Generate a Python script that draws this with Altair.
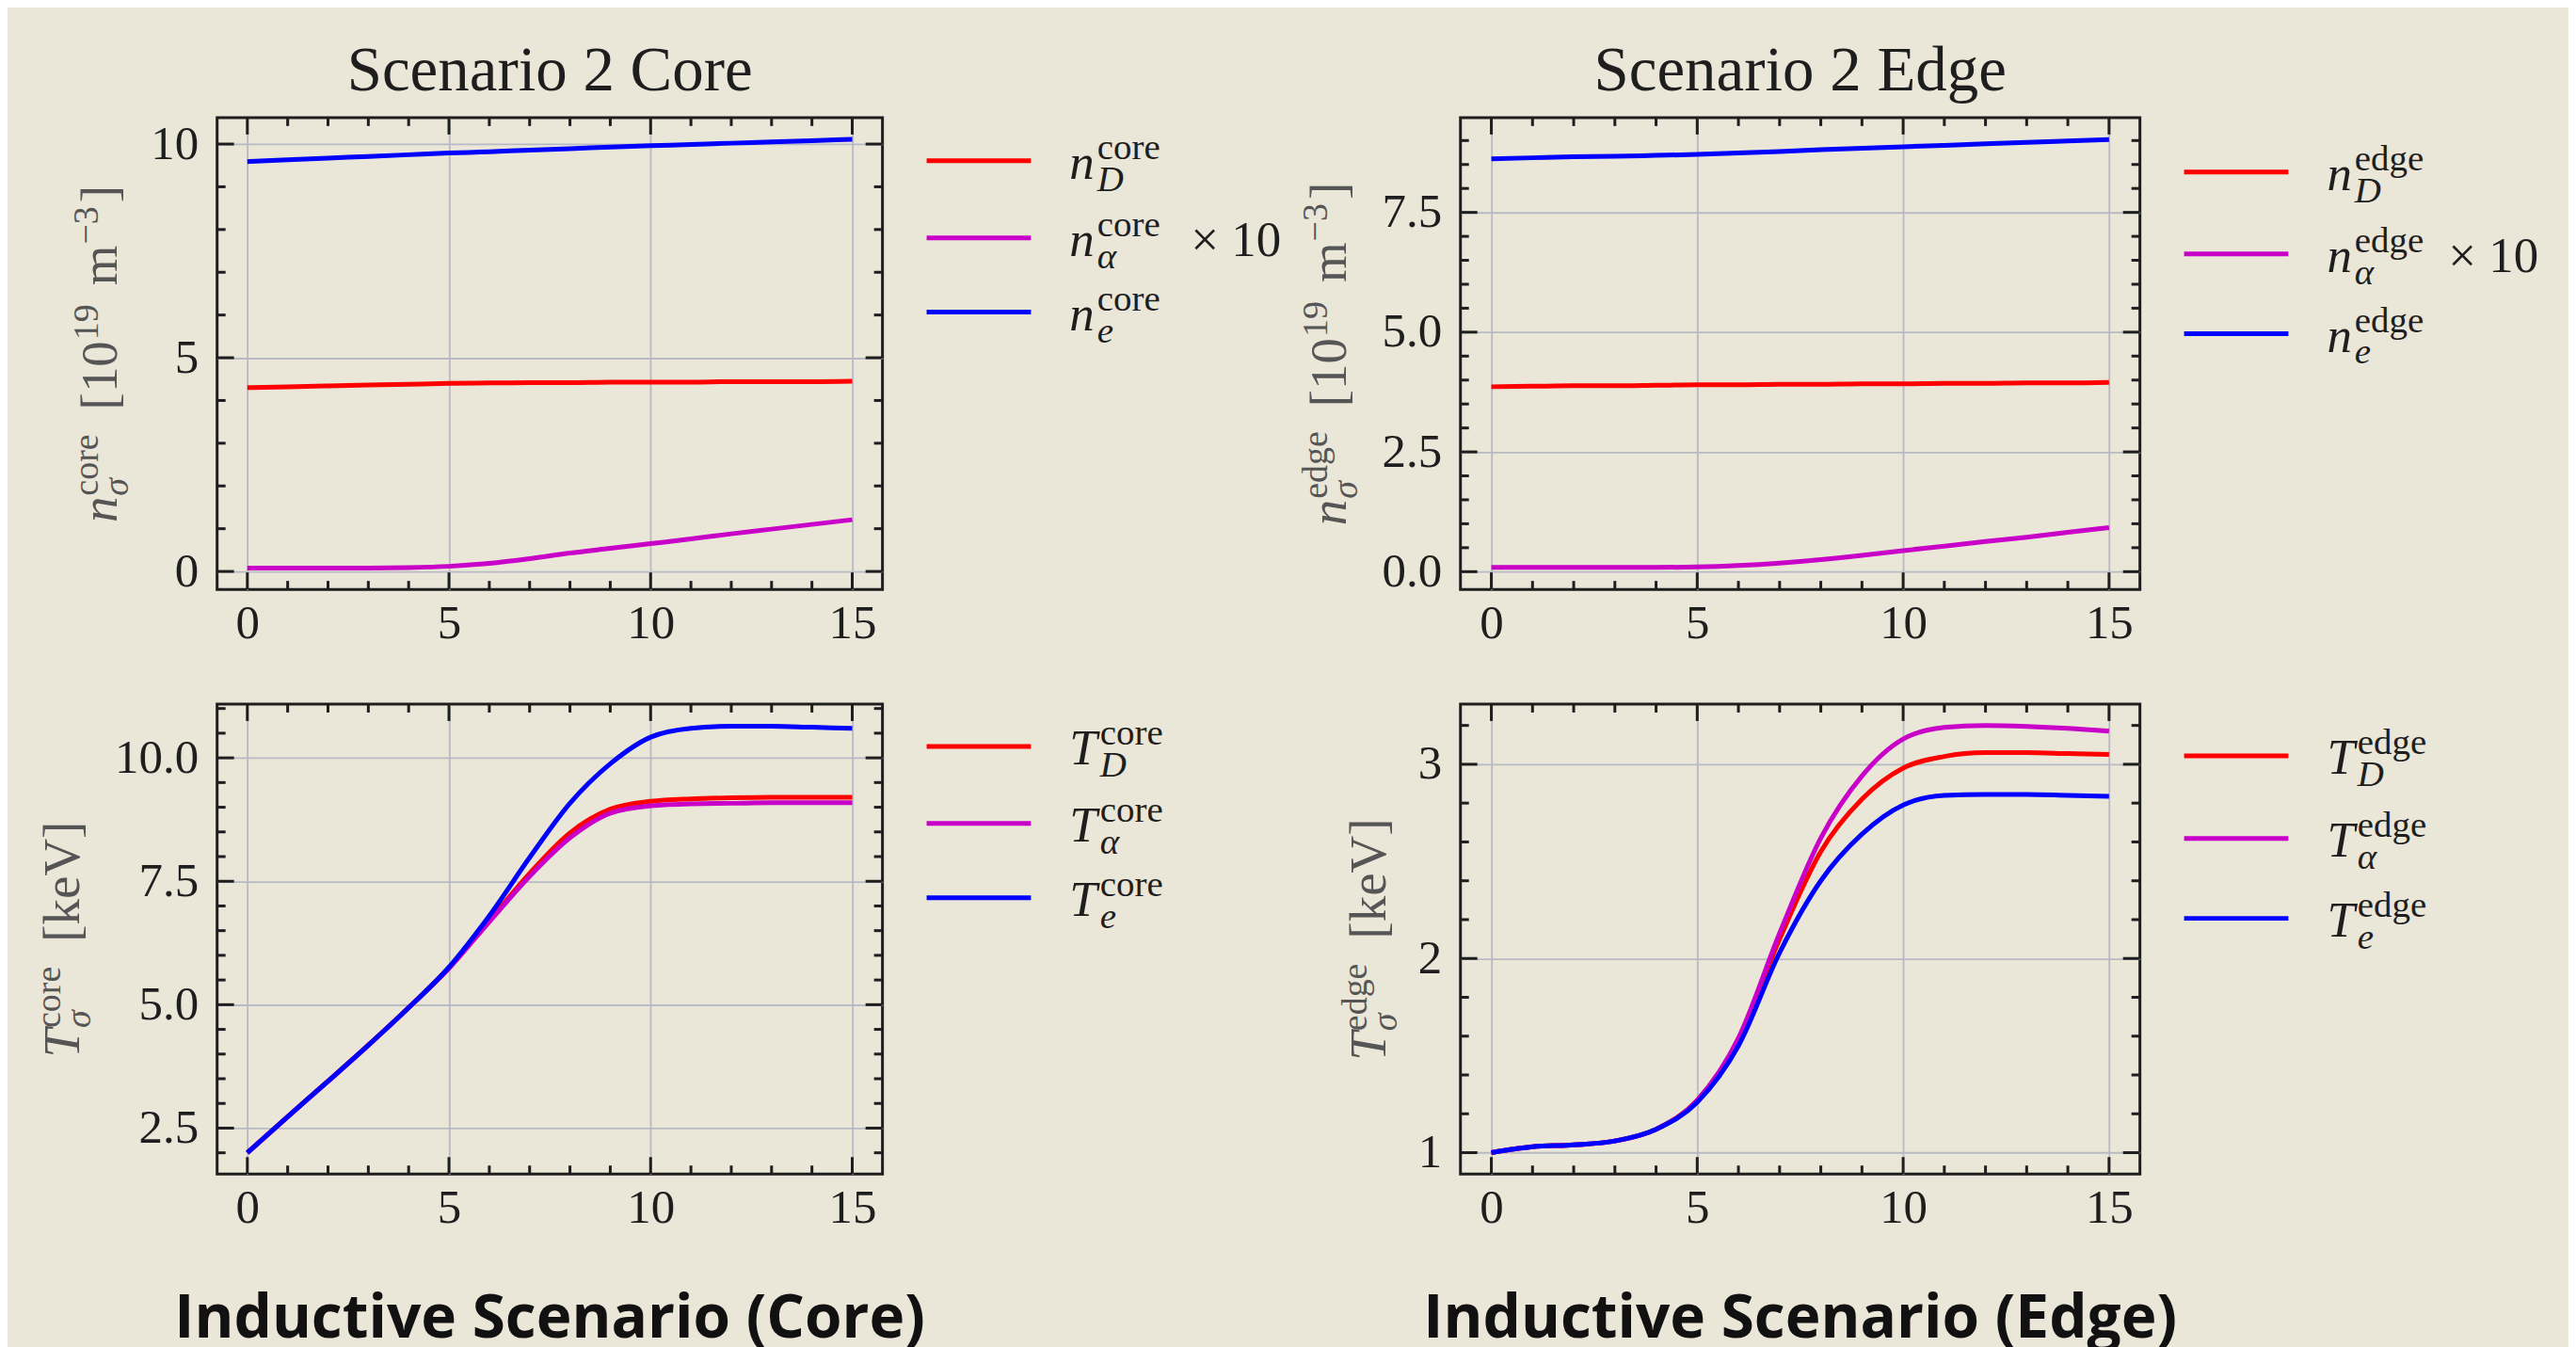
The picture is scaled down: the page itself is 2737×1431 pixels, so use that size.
import altair as alt
import pandas as pd

# ---------------- data ----------------
TIME = [0, 1, 2, 3, 4, 5, 6, 7, 8, 9, 10, 11, 12, 13, 14, 15]

# densities [1e19 m^-3], alpha density shown x10
N_D_CORE = [4.30, 4.32, 4.34, 4.36, 4.38, 4.40, 4.41, 4.42, 4.42, 4.43, 4.43, 4.43, 4.44, 4.44, 4.44, 4.45]
N_A_CORE = [0.08, 0.08, 0.08, 0.08, 0.09, 0.12, 0.19, 0.30, 0.43, 0.54, 0.65, 0.76, 0.88, 0.99, 1.10, 1.21]
N_E_CORE = [9.59, 9.63, 9.67, 9.71, 9.75, 9.79, 9.82, 9.86, 9.89, 9.93, 9.96, 9.99, 10.02, 10.05, 10.08, 10.11]

N_D_EDGE = [3.86, 3.87, 3.88, 3.88, 3.89, 3.90, 3.90, 3.91, 3.91, 3.92, 3.92, 3.93, 3.93, 3.94, 3.94, 3.95]
N_A_EDGE = [0.09, 0.09, 0.09, 0.09, 0.09, 0.10, 0.13, 0.18, 0.25, 0.34, 0.44, 0.53, 0.63, 0.72, 0.82, 0.92]
N_E_EDGE = [8.62, 8.64, 8.66, 8.67, 8.69, 8.71, 8.74, 8.77, 8.81, 8.84, 8.87, 8.90, 8.93, 8.96, 8.99, 9.02]

# temperatures [keV]
T_D_CORE = [2.00, 2.73, 3.45, 4.18, 4.94, 5.74, 6.70, 7.66, 8.48, 8.96, 9.12, 9.17, 9.19, 9.20, 9.20, 9.20]
T_A_CORE = [2.00, 2.73, 3.45, 4.18, 4.94, 5.74, 6.68, 7.60, 8.38, 8.88, 9.03, 9.07, 9.08, 9.09, 9.09, 9.09]
T_E_CORE = [2.00, 2.73, 3.45, 4.18, 4.94, 5.76, 6.80, 7.98, 9.08, 9.88, 10.42, 10.60, 10.64, 10.64, 10.62, 10.60]

T_D_EDGE = [1.00, 1.03, 1.04, 1.06, 1.12, 1.27, 1.58, 2.10, 2.55, 2.82, 2.98, 3.04, 3.06, 3.06, 3.055, 3.05]
T_A_EDGE = [1.00, 1.03, 1.04, 1.06, 1.12, 1.27, 1.59, 2.13, 2.62, 2.94, 3.13, 3.19, 3.20, 3.195, 3.185, 3.17]
T_E_EDGE = [1.00, 1.03, 1.04, 1.06, 1.12, 1.26, 1.55, 2.03, 2.40, 2.64, 2.79, 2.84, 2.845, 2.845, 2.84, 2.835]

SPECIES_SUB = ["D", "α", "e"]
DENSITY_SUFFIX = ["", "× 10", ""]
TEMP_SUFFIX = ["", "", ""]

X_MAJOR = [0, 5, 10, 15]
X_MINOR = [1, 2, 3, 4, 6, 7, 8, 9, 11, 12, 13, 14]
Y_MAJOR_NCORE = [0, 5, 10]
Y_MINOR_NCORE = [1, 2, 3, 4, 6, 7, 8, 9]
Y_MAJOR_NEDGE = [0, 2.5, 5, 7.5]
Y_MINOR_NEDGE = [0.5, 1, 1.5, 2, 3, 3.5, 4, 4.5, 5.5, 6, 6.5, 7, 8, 8.5, 9]
Y_MAJOR_TCORE = [2.5, 5, 7.5, 10]
Y_MINOR_TCORE = [2, 3, 3.5, 4, 4.5, 5.5, 6, 6.5, 7, 8, 8.5, 9, 9.5, 10.5, 11]
Y_MAJOR_TEDGE = [1, 2, 3]
Y_MINOR_TEDGE = [1.2, 1.4, 1.6, 1.8, 2.2, 2.4, 2.6, 2.8, 3.2]

# ---------------- style ----------------
BG = "#EAE6D8"
INK = "#1e1e1e"
GREY_TITLE = "#555555"
GRID = "#b8bac3"
SERIF = "Liberation Serif"
COLORS = ["#FF0000", "#C800C8", "#0000FF"]
X_DOMAIN = [-0.75, 15.75]
TICK_FS = 51
LEG_MAIN, LEG_SMALL = 53, 39
TTL_MAIN, TTL_SMALL = 55, 38
LINE_W = 5

REG = {' ': 250, '[': 333, ']': 333, 'm': 778, 'k': 500, 'e': 444, 'V': 722, 'c': 444,
       'o': 500, 'r': 333, 'd': 500, 'g': 500, '−': 564, '×': 564, 'σ': 550, 'α': 550}
ITA = {'n': 500, 'T': 556, 'D': 722, 'e': 444, 'σ': 500, 'α': 520}


def tw(s, size, italic=False):
    tab = ITA if italic else REG
    return sum(tab.get(ch, 500) for ch in s) * size / 1000.0


one = pd.DataFrame({"k": [0]})


def txt(text, x, y, size, italic=False, angle=0, dx=0, dy=0, align="left",
        color=INK, font=SERIF, weight="normal"):
    return alt.Chart(one).mark_text(
        text=text, font=font, fontSize=size, fontStyle="italic" if italic else "normal",
        fontWeight=weight, color=color, align=align, baseline="alphabetic",
        angle=angle, dx=dx, dy=dy).encode(x=alt.value(x), y=alt.value(y))


def rotated_title(atoms, x_base, y_center):
    M, S = TTL_MAIN, TTL_SMALL
    total = 0.0
    for a in atoms:
        total += tw(a["base"], M, a.get("it", False)) + 1
        total += max(tw(a.get("sup", ""), S), tw(a.get("sub", ""), S, True))
        total += a.get("gap", 0)
    y_start = y_center + total / 2.0
    layers = []
    off = 0.0
    for a in atoms:
        layers.append(txt(a["base"], x_base, y_start, M, a.get("it", False), angle=270,
                          dx=off, color=GREY_TITLE))
        off += tw(a["base"], M, a.get("it", False)) + 1
        w = 0
        if a.get("sup"):
            layers.append(txt(a["sup"], x_base, y_start, S, False, angle=270, dx=off,
                              dy=-20, color=GREY_TITLE))
            w = max(w, tw(a["sup"], S))
        if a.get("sub"):
            layers.append(txt(a["sub"], x_base, y_start, S, True, angle=270, dx=off,
                              dy=12, color=GREY_TITLE))
            w = max(w, tw(a["sub"], S, True))
        off += w + a.get("gap", 0)
    return layers


def panel(W, H, ydom, ymaj, ymin, yfmt, values, sym, sup, suffixes, legend_rows,
          title_x, title_atoms, top_title=None, bottom_text=None, anchor=False):
    xs = alt.Scale(domain=X_DOMAIN, nice=False, zero=False)
    ys = alt.Scale(domain=ydom, nice=False, zero=False)
    xaxis = alt.Axis(values=X_MAJOR, title=None, grid=True, gridColor=GRID, gridWidth=1.8,
                     ticks=False, tickSize=0, domain=False, labelFont=SERIF,
                     labelFontSize=TICK_FS, labelColor=INK, labelPadding=11, labelFlush=False,
                     labelOverlap=False, format="d")
    yaxis = alt.Axis(values=ymaj, title=None, grid=True, gridColor=GRID, gridWidth=1.8,
                     ticks=False, tickSize=0, domain=False, labelFont=SERIF,
                     labelFontSize=TICK_FS, labelColor=INK, labelPadding=20, labelFlush=False,
                     labelOverlap=False, format=yfmt)
    layers = []
    if anchor:
        # transparent rectangle fixing the overall canvas extent
        layers.append(alt.Chart(one).mark_rect(opacity=0).encode(
            x=alt.value(-221), x2=alt.value(2721 - 221),
            y=alt.value(-114), y2=alt.value(1413 - 114)))
    for i, (vals, col) in enumerate(zip(values, COLORS)):
        df = pd.DataFrame({"t": TIME, "v": vals})
        layers.append(alt.Chart(df).mark_line(color=col, strokeWidth=LINE_W,
                                              interpolate="monotone").encode(
            x=alt.X("t:Q", scale=xs, axis=xaxis),
            y=alt.Y("v:Q", scale=ys, axis=yaxis)))
    # inward ticks on all four sides
    for vals, L in ((X_MAJOR, 18), (X_MINOR, 9)):
        d = pd.DataFrame({"t": vals})
        b = alt.Chart(d).mark_rule(color=INK, strokeWidth=3)
        layers.append(b.encode(x=alt.X("t:Q", scale=xs, axis=xaxis), y=alt.value(H), y2=alt.value(H - L)))
        layers.append(b.encode(x=alt.X("t:Q", scale=xs, axis=xaxis), y=alt.value(0), y2=alt.value(L)))
    for vals, L in ((ymaj, 18), (ymin, 9)):
        d = pd.DataFrame({"v": vals})
        b = alt.Chart(d).mark_rule(color=INK, strokeWidth=3)
        layers.append(b.encode(y=alt.Y("v:Q", scale=ys, axis=yaxis), x=alt.value(0), x2=alt.value(L)))
        layers.append(b.encode(y=alt.Y("v:Q", scale=ys, axis=yaxis), x=alt.value(W), x2=alt.value(W - L)))
    # legend
    for i, ry in enumerate(legend_rows):
        layers.append(alt.Chart(one).mark_rule(color=COLORS[i], strokeWidth=LINE_W).encode(
            x=alt.value(W + 47), x2=alt.value(W + 158), y=alt.value(ry)))
        x0 = W + 199
        base_y = ry + 19
        layers.append(txt(sym, x0, base_y, LEG_MAIN, True))
        xs2 = x0 + tw(sym, LEG_MAIN, True) + 3
        layers.append(txt(sup, xs2, base_y - 21, LEG_SMALL))
        layers.append(txt(SPECIES_SUB[i], xs2, base_y + 13, LEG_SMALL, True))
        if suffixes[i]:
            layers.append(txt(suffixes[i], W + 328, base_y, LEG_MAIN))
    layers += rotated_title(title_atoms, title_x, H / 2.0)
    if top_title:
        layers.append(txt(top_title, W / 2.0, -29, 67, align="center"))
    if bottom_text:
        layers.append(txt(bottom_text, W / 2.0, 674, 64, align="center", color="#111111",
                          font="Open Sans", weight="bold"))
    return alt.layer(*layers).properties(width=W, height=H)


def dens_atoms(sup):
    return [dict(base="n", it=True, sup=sup, sub="σ", gap=26),
            dict(base="[10", sup="19", gap=20),
            dict(base="m", sup="−3", gap=4),
            dict(base="]")]


def temp_atoms(sup):
    return [dict(base="T", it=True, sup=sup, sub="σ", gap=26),
            dict(base="[keV]")]


TL = panel(708, 502, [-0.42, 10.62], Y_MAJOR_NCORE, Y_MINOR_NCORE, "d",
           [N_D_CORE, N_A_CORE, N_E_CORE], "n", "core", DENSITY_SUFFIX, [46, 128, 207],
           -107, dens_atoms("core"), top_title="Scenario 2 Core", anchor=True)
TR = panel(723, 502, [-0.37, 9.48], Y_MAJOR_NEDGE, Y_MINOR_NEDGE, ".1f",
           [N_D_EDGE, N_A_EDGE, N_E_EDGE], "n", "edge", DENSITY_SUFFIX, [58, 145, 230],
           -122, dens_atoms("edge"), top_title="Scenario 2 Edge")
BL = panel(708, 500, [1.57, 11.09], Y_MAJOR_TCORE, Y_MINOR_TCORE, ".1f",
           [T_D_CORE, T_A_CORE, T_E_CORE], "T", "core", TEMP_SUFFIX, [45, 127, 206],
           -147, temp_atoms("core"), bottom_text="Inductive Scenario (Core)")
BR = panel(723, 500, [0.89, 3.31], Y_MAJOR_TEDGE, Y_MINOR_TEDGE, "d",
           [T_D_EDGE, T_A_EDGE, T_E_EDGE], "T", "edge", TEMP_SUFFIX, [55, 143, 228],
           -80, temp_atoms("edge"), bottom_text="Inductive Scenario (Edge)")

chart = alt.concat(TL, TR, BL, BR, columns=2, spacing={"row": 122, "column": 615},
                   bounds="flush").properties(padding=0).configure(
    background=BG).configure_view(stroke=INK, strokeWidth=3)

chart.save("out.html", embed_options={"renderer": "svg", "actions": False})
